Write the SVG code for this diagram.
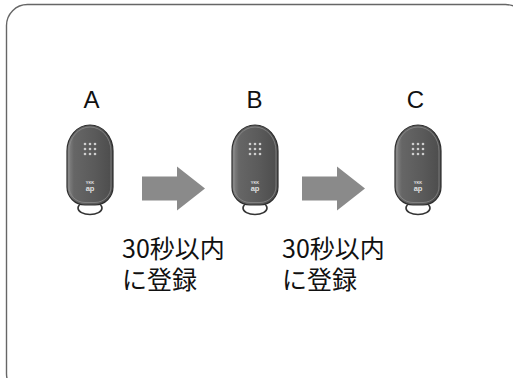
<svg xmlns="http://www.w3.org/2000/svg" width="513" height="378" viewBox="0 0 513 378">
  <style>
    .frame { fill: #fff; stroke: #666; stroke-width: 1.4; }
    .letter { font-family: "Liberation Sans", Arial, sans-serif; font-size: 24px; fill: #111; text-anchor: middle; }
    .note { font-family: "Noto Sans CJK JP", "Liberation Sans", sans-serif; font-size: 25px; fill: #111; }
    .arrow { fill: #8a8a8a; }
    .body { fill: url(#fobGrad); stroke: #2e2e2e; stroke-width: 1.2; }
    .rim { fill: none; stroke: #909090; stroke-width: 0.7; }
    .ringOuter { fill: #fff; stroke: #333; stroke-width: 1.6; }
    .dot { fill: #cfcfcf; }
    .logo { font-family: "Liberation Sans", Arial, sans-serif; font-weight: bold; fill: #e0e0e0; text-anchor: middle; }
  </style>
  <defs>
    <linearGradient id="fobGrad" x1="0" y1="0" x2="1" y2="0">
      <stop offset="0" stop-color="#8a8a8a"/>
      <stop offset="0.15" stop-color="#666"/>
      <stop offset="0.6" stop-color="#5a5a5a"/>
      <stop offset="1" stop-color="#4c4c4c"/>
    </linearGradient>
    <!-- key fob, local origin at top centre -->
    <g id="fob">
      <ellipse class="ringOuter" cx="0" cy="83" rx="12" ry="6.5"/>
      <path class="body" d="M-23,26 A23,26 0 0 1 23,26 V62 A18,18 0 0 1 5,80 H-5 A18,18 0 0 1 -23,62 Z"/>
      <path class="rim" d="M-21,26 A21,24 0 0 1 21,26 V61 A16,16 0 0 1 5,77.5 H-5 A16,16 0 0 1 -21,61 Z"/>
      <g class="dot">
        <circle cx="-5" cy="19" r="1.3"/><circle cx="0" cy="19" r="1.3"/><circle cx="5" cy="19" r="1.3"/>
        <circle cx="-5" cy="24" r="1.3"/><circle cx="0" cy="24" r="1.3"/><circle cx="5" cy="24" r="1.3"/>
        <circle cx="-5" cy="29" r="1.3"/><circle cx="0" cy="29" r="1.3"/><circle cx="5" cy="29" r="1.3"/>
      </g>
      <text class="logo" x="0" y="59" font-size="4">YKK</text>
      <text class="logo" x="0" y="66" font-size="7.5">ap</text>
    </g>
    <path id="bigArrow" d="M0,10 H35 V0 L63,22 L35,44 V34 H0 Z"/>
  </defs>

  <rect class="frame" x="6.5" y="4.5" width="520" height="390" rx="21" ry="21"/>

  <g id="node-a">
    <text class="letter" x="91.5" y="108">A</text>
    <use href="#fob" x="90" y="125"/>
  </g>
  <g id="node-b">
    <text class="letter" x="254.5" y="108">B</text>
    <use href="#fob" x="255" y="125"/>
  </g>
  <g id="node-c">
    <text class="letter" x="415.5" y="108">C</text>
    <use href="#fob" x="418" y="125"/>
  </g>

  <g id="connectors">
    <use class="arrow" href="#bigArrow" x="142" y="166.5"/>
    <use class="arrow" href="#bigArrow" x="302" y="166.5"/>
  </g>

  <g id="label-ab">
    <text class="note" x="122" y="258">30秒以内<tspan x="122" dy="31">に登録</tspan></text>
  </g>
  <g id="label-bc">
    <text class="note" x="282" y="258">30秒以内<tspan x="282" dy="31">に登録</tspan></text>
  </g>
</svg>
